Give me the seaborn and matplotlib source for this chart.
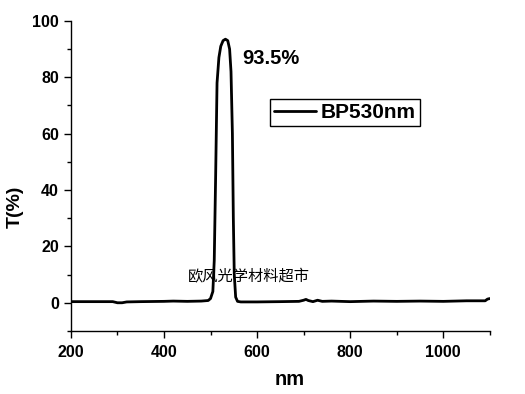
import matplotlib
matplotlib.use("Agg")
import matplotlib.pyplot as plt
import seaborn as sns
import pandas as pd
from matplotlib.ticker import MultipleLocator

wavelength = [200, 250, 290, 300, 310, 320, 350, 400, 420, 450, 480, 495, 500, 505, 508, 511,
              514, 518, 522, 527, 532, 537, 541, 544, 547, 549, 551, 554, 558, 565, 600,
              650, 690, 700, 705, 710, 720, 730, 740, 760, 800, 850, 900, 950, 1000,
              1050, 1090, 1095, 1100]
transmit = [0.4, 0.4, 0.4, 0.0, 0.0, 0.3, 0.4, 0.5, 0.6, 0.5, 0.6, 0.8, 1.5, 4.0, 15.0, 45.0,
            78.0, 87.0, 91.0, 93.0, 93.5, 93.0, 90.0, 82.0, 60.0, 30.0, 10.0, 2.0, 0.5, 0.3, 0.3,
            0.4, 0.5, 0.9, 1.2, 0.8, 0.4, 0.9, 0.5, 0.6, 0.4, 0.6, 0.5, 0.6, 0.5,
            0.7, 0.7, 1.3, 1.5]
series_name = "BP530nm"
peak_label = "93.5%"
watermark = "欧风光学材料超市"

sns.set_style("ticks")
plt.rcParams['font.family'] = ['Liberation Sans', 'DejaVu Sans']
plt.rcParams['text.color'] = 'black'
plt.rcParams['axes.labelcolor'] = 'black'
plt.rcParams['xtick.color'] = 'black'
plt.rcParams['ytick.color'] = 'black'

df = pd.DataFrame({"nm": wavelength, "T": transmit, "series": series_name})

fig = plt.figure(figsize=(5.25, 3.94), dpi=100)
ax = fig.add_axes([0.135, 0.16, 0.798, 0.787])
sns.lineplot(data=df, x="nm", y="T", hue="series", palette=["black"], linewidth=2.0, ax=ax)

ax.set_xlim(200, 1100)
ax.set_ylim(-10, 100)
ax.xaxis.set_major_locator(MultipleLocator(200))
ax.xaxis.set_minor_locator(MultipleLocator(100))
ax.yaxis.set_major_locator(MultipleLocator(20))
ax.yaxis.set_minor_locator(MultipleLocator(10))
ax.tick_params(which="both", direction="out", colors="black", labelcolor="black", width=1.0)
ax.tick_params(which="major", length=5, labelsize=11.5)
ax.tick_params(axis="x", which="major", pad=5)
ax.tick_params(which="minor", length=3)
for lab in ax.get_xticklabels() + ax.get_yticklabels():
    lab.set_fontweight("bold")
for s in ["top", "right"]:
    ax.spines[s].set_visible(False)
for s in ["left", "bottom"]:
    ax.spines[s].set_color("black")
    ax.spines[s].set_linewidth(1.0)

ax.set_xlabel("nm", fontsize=14.5, fontweight="bold", labelpad=7, color="black")
ax.set_ylabel("T(%)", fontsize=14, fontweight="bold", labelpad=6, color="black")
ax.xaxis.label.set_x(0.523)
ax.yaxis.label.set_y(0.40)

ax.text(0.41, 0.88, peak_label, transform=ax.transAxes, fontsize=14.5, fontweight="bold",
        ha="left", va="center", color="black")
ax.text(0.28, 0.174, watermark, transform=ax.transAxes, fontsize=11, color="black",
        family=['Noto Sans CJK SC', 'DejaVu Sans'], ha="left", va="center")

leg = ax.legend(loc="upper left", bbox_to_anchor=(0.475, 0.748), borderaxespad=0,
                frameon=True, fancybox=False,
                handlelength=2.0, borderpad=0.2, handletextpad=0.25,
                prop={"weight": "bold", "size": 15})
leg.get_frame().set_edgecolor("black")
leg.get_frame().set_linewidth(1.0)
leg.get_frame().set_alpha(1)
for t in leg.get_texts():
    t.set_color("black")

fig.savefig("out.png", dpi=100)
